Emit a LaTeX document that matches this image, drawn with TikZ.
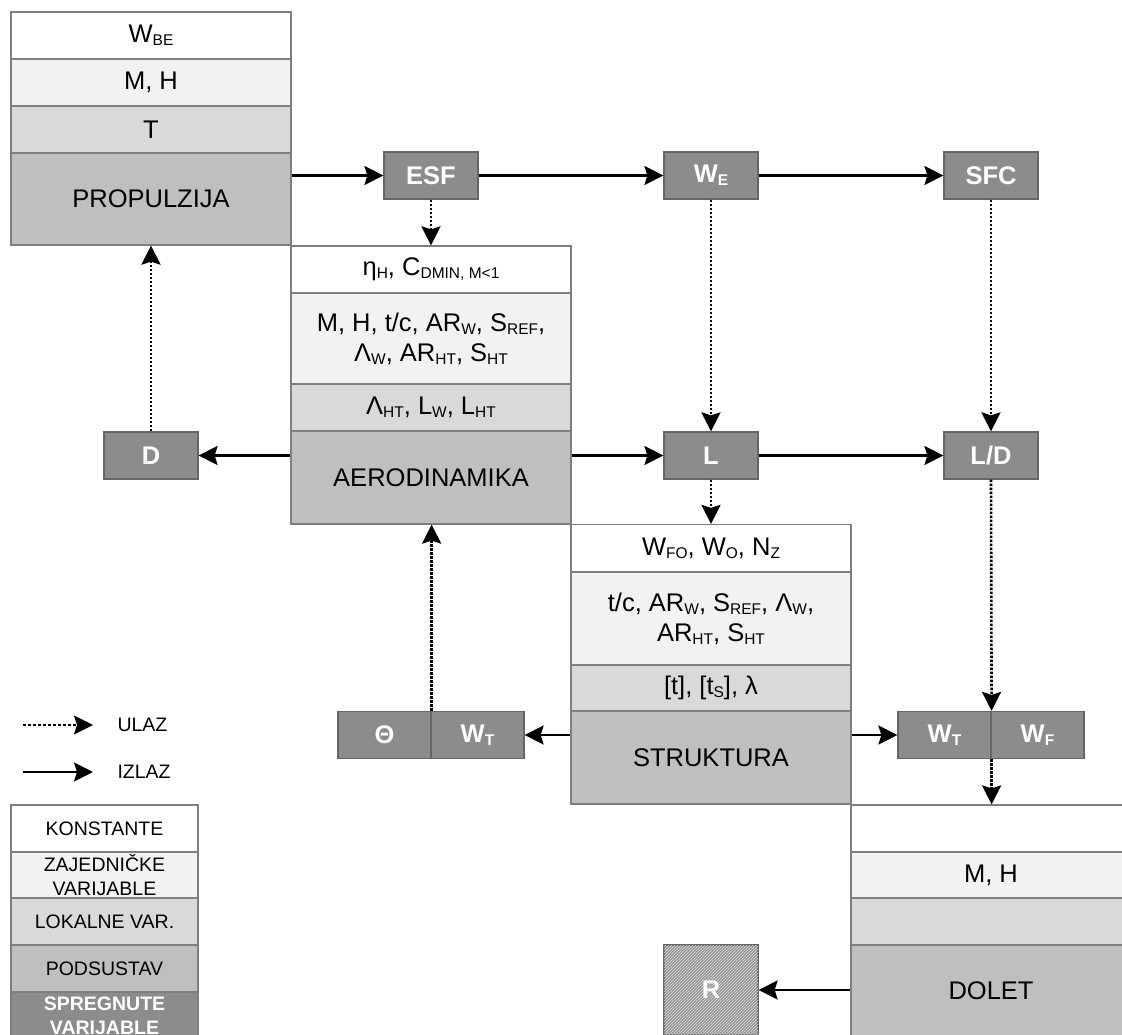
\documentclass[tikz,border=0pt]{standalone}
\usepackage{fontspec}
\setmainfont{Liberation Sans}
\usetikzlibrary{arrows.meta,patterns}
\definecolor{KonstBG}{HTML}{FFFFFF}
\definecolor{ZajBG}{HTML}{F2F2F2}
\definecolor{LokBG}{HTML}{D9D9D9}
\definecolor{PodsBG}{HTML}{BFBFBF}
\definecolor{SpregBG}{HTML}{8C8C8C}
\definecolor{EdgeGray}{HTML}{7F7F7F}
\newcommand{\subtxt}[1]{\raisebox{-3pt}{\fontsize{15.5}{15.5}\selectfont #1}}

\begin{document}
\begin{tikzpicture}[x=1pt,y=-1pt,
  row/.style={draw=EdgeGray,line width=1.2pt,minimum width=280pt,inner sep=0pt,
    align=center,font=\fontsize{25.5}{30}\selectfont},
  konst/.style={row,fill=KonstBG,minimum height=47pt},
  zaj/.style={row,fill=ZajBG},
  lok/.style={row,fill=LokBG},
  pods/.style={row,fill=PodsBG},
  spreg/.style={draw=EdgeGray!80!black,line width=1.2pt,fill=SpregBG,minimum width=94pt,
    minimum height=47pt,inner sep=0pt,text=white,font=\fontsize{25.5}{28}\selectfont\bfseries},
  leg/.style={row,minimum width=187pt,minimum height=47pt,font=\fontsize{19.5}{24}\selectfont},
  izlaz/.style={line width=2.4pt,-{Stealth[length=19pt,width=19pt,inset=3pt]}},
  ulaz/.style={izlaz,line width=2.6pt,dash pattern=on 2.5pt off 1.5pt}]
  \clip (0,0) rectangle (1122,1035);

  % --- PROPULZIJA ---
  \node[konst] (p1) at (151,35.5) {W\subtxt{BE}};
  \node[zaj,minimum height=47pt] (p2) at (151,82.5) {M, H};
  \node[lok,minimum height=47pt] (p3) at (151,129.5) {T};
  \node[pods,minimum height=92pt] (prop) at (151,199) {PROPULZIJA};

  % --- AERODINAMIKA ---
  \node[konst] (a1) at (431,269.5) {η\subtxt{H}, C\subtxt{DMIN, M<1}};
  \node[zaj,minimum height=91pt] (a2) at (431,338.5)
    {M, H, t/c, AR\subtxt{W}, S\subtxt{REF},\\Λ\subtxt{W}, AR\subtxt{HT}, S\subtxt{HT}};
  \node[lok,minimum height=47pt] (a3) at (431,407.5) {Λ\subtxt{HT}, L\subtxt{W}, L\subtxt{HT}};
  \node[pods,minimum height=93pt] (aero) at (431,477.5) {AERODINAMIKA};

  % --- STRUKTURA ---
  \node[konst] (s1) at (711,548) {W\subtxt{FO}, W\subtxt{O}, N\subtxt{Z}};
  \node[zaj,minimum height=93pt] (s2) at (711,618.5)
    {t/c, AR\subtxt{W}, S\subtxt{REF}, Λ\subtxt{W},\\AR\subtxt{HT}, S\subtxt{HT}};
  \node[lok,minimum height=46pt] (s3) at (711,688) {[t], [t\subtxt{S}], λ};
  \node[pods,minimum height=93pt] (struk) at (711,757.5) {STRUKTURA};

  % --- DOLET ---
  \node[konst] (d1) at (991,828.5) {};
  \node[zaj,minimum height=46pt] (d2) at (991,875) {M, H};
  \node[lok,minimum height=47pt] (d3) at (991,921.5) {};
  \node[pods,minimum height=92pt] (dolet) at (991,991) {DOLET};

  % --- coupled variables ---
  \node[spreg] (esf) at (431,175.5) {ESF};
  \node[spreg] (we) at (711,175.5) {W\subtxt{E}};
  \node[spreg] (sfc) at (991,175.5) {SFC};
  \node[spreg] (dd) at (151,455.5) {D};
  \node[spreg] (ll) at (711,455.5) {L};
  \node[spreg] (ld) at (991,455.5) {L/D};
  \node[spreg,minimum width=93pt] (tht) at (384.5,735) {Θ};
  \node[spreg,minimum width=93pt] (wtl) at (477.5,735) {W\subtxt{T}};
  \node[spreg,minimum width=93pt] (wtr) at (944.5,735) {W\subtxt{T}};
  \node[spreg,minimum width=93pt] (wf) at (1037.5,735) {W\subtxt{F}};
  \node[spreg,minimum height=90pt,fill=SpregBG!90!white,
    postaction={pattern=north east lines,pattern color=white!70!SpregBG}] (rr) at (711,990) {R};

  % outputs
  \draw[izlaz] (prop.east |- esf.west) -- (esf.west);
  \draw[izlaz] (esf) -- (we);
  \draw[izlaz] (we) -- (sfc);
  \draw[izlaz] (aero.west |- dd.east) -- (dd.east);
  \draw[izlaz] (aero.east |- ll.west) -- (ll.west);
  \draw[izlaz] (ll) -- (ld);
  \draw[izlaz] (struk.west |- wtl.east) -- (wtl.east);
  \draw[izlaz] (struk.east |- wtr.west) -- (wtr.west);
  \draw[izlaz] (dolet.west |- rr.east) -- (rr.east);
  % inputs
  \draw[ulaz] (esf) -- (a1);
  \draw[ulaz] (we) -- (ll);
  \draw[ulaz] (sfc) -- (ld);
  \draw[ulaz] (dd) -- (prop);
  \draw[ulaz] (ll) -- (s1);
  \draw[ulaz] (ld.south) -- (wtr.north east);
  \draw[ulaz] (wtr.south east) -- (wtr.south east |- d1.north);
  \draw[ulaz] (tht.north east) -- (tht.north east |- aero.south);

  % --- legend ---
  \coordinate (ulA) at (23,725);
  \coordinate (ulB) at (93,725);
  \coordinate (izA) at (23,772);
  \coordinate (izB) at (93,772);
  \draw[ulaz,line width=1.5pt,dash pattern=on 3pt off 2pt] (ulA) -- (ulB);
  \draw[izlaz] (izA) -- (izB);
  \node[anchor=west,font=\fontsize{19.5}{24}\selectfont] (ulaz) at (114,725) {ULAZ};
  \node[anchor=west,font=\fontsize{19.5}{24}\selectfont] (izlaz) at (114,772) {IZLAZ};
  \node[leg,fill=KonstBG] (lkon) at (104.5,828.5) {KONSTANTE};
  \node[leg,fill=ZajBG,minimum height=46pt] (lzaj) at (104.5,875) {ZAJEDNIČKE\\VARIJABLE};
  \node[leg,fill=LokBG] (llok) at (104.5,921.5) {LOKALNE VAR.};
  \node[leg,fill=PodsBG] (lpod) at (104.5,968.5) {PODSUSTAV};
  \node[leg,fill=SpregBG,text=white,font=\fontsize{19.5}{24}\selectfont\bfseries]
    (lspr) at (104.5,1015.5) {SPREGNUTE\\VARIJABLE};
\end{tikzpicture}
\end{document}
